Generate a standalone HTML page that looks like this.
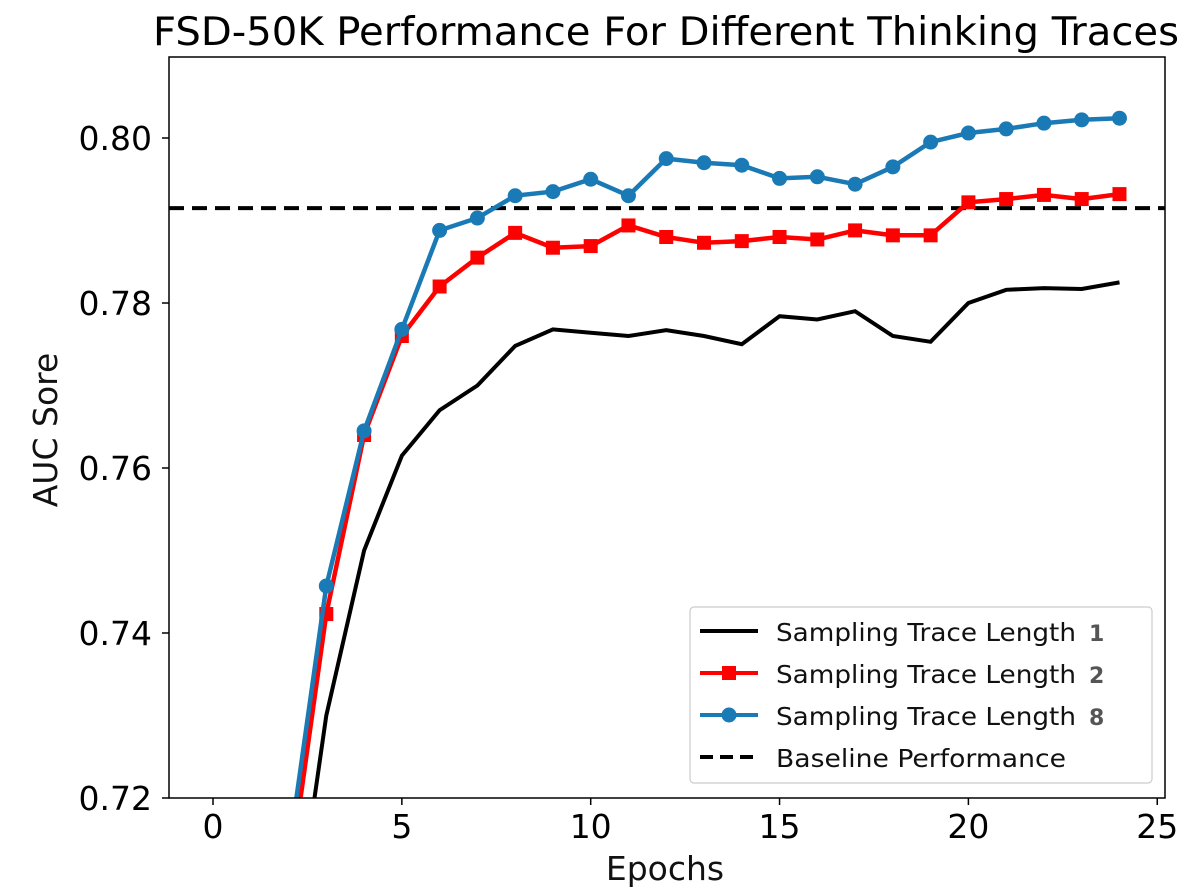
<!DOCTYPE html>
<html><head><meta charset="utf-8"><style>
html,body{margin:0;background:#fff;overflow:hidden;width:1200px;height:895px}
svg{display:block;font-family:"DejaVu Sans","Liberation Sans",sans-serif}
</style></head><body>
<svg id="s" width="1200" height="895" viewBox="0 0 1200 895">
<defs><clipPath id="c"><rect x="169" y="57" width="996" height="741"/></clipPath></defs>
<rect width="1200" height="895" fill="#fff"/>
<text transform="translate(666,45) scale(1,1.1)" font-size="36" text-anchor="middle" fill="#000" textLength="1026" lengthAdjust="spacingAndGlyphs">FSD-50K Performance For Different Thinking Traces</text>
<g id="plot" clip-path="url(#c)"></g>
<rect x="169" y="57" width="996" height="741" fill="none" stroke="#000" stroke-width="1.5"/>
<g id="ticks" font-size="33" fill="#000"></g>
<text x="665" y="880" font-size="33" text-anchor="middle" fill="#111">Epochs</text>
<text transform="translate(57,430) rotate(-90)" font-size="33" text-anchor="middle" fill="#111">AUC Sore</text>
<g id="leg"></g>
</svg>
<script>
const X=e=>213+e*37.77, Y=v=>798-(v-0.72)*8250;
const ns="http://www.w3.org/2000/svg";
function el(t,a,p){const n=document.createElementNS(ns,t);for(const k in a)n.setAttribute(k,a[k]);p.appendChild(n);return n;}
const plot=document.getElementById('plot'),tk=document.getElementById('ticks'),leg=document.getElementById('leg');
const k=[0.698,0.730,0.750,0.7615,0.767,0.770,0.7748,0.7768,0.7764,0.776,0.7767,0.776,0.775,0.7784,0.778,0.779,0.776,0.7753,0.780,0.7816,0.7818,0.7817,0.7825];
const r=[0.7096,0.7423,0.764,0.776,0.782,0.7855,0.7885,0.7867,0.7869,0.7894,0.788,0.7873,0.7875,0.788,0.7877,0.7888,0.7882,0.7882,0.7922,0.7926,0.7931,0.7926,0.7932];
const b=[0.7132,0.7457,0.7645,0.7768,0.7888,0.7903,0.793,0.7935,0.795,0.793,0.7975,0.797,0.7967,0.7951,0.7953,0.7944,0.7965,0.7995,0.8006,0.8011,0.8018,0.8022,0.8024];
const pts=a=>a.map((v,i)=>X(i+2).toFixed(1)+","+Y(v).toFixed(1)).join(" ");
el('line',{x1:169,x2:1165,y1:Y(0.7915),y2:Y(0.7915),stroke:'#000','stroke-width':4,'stroke-dasharray':'15,8'},plot);
el('polyline',{points:pts(k),fill:'none',stroke:'#000','stroke-width':4},plot);
el('polyline',{points:pts(r),fill:'none',stroke:'#ff0000','stroke-width':4.5},plot);
r.forEach((v,i)=>el('rect',{x:X(i+2)-7,y:Y(v)-7,width:14,height:14,fill:'#ff0000'},plot));
el('polyline',{points:pts(b),fill:'none',stroke:'#1a7ab5','stroke-width':4.5},plot);
b.forEach((v,i)=>el('circle',{cx:X(i+2),cy:Y(v),r:7.5,fill:'#1a7ab5'},plot));
[0,5,10,15,20,25].forEach(e=>{el('line',{x1:X(e),x2:X(e),y1:798,y2:805,stroke:'#000','stroke-width':1.5},tk);const t=el('text',{x:X(e),y:838,'text-anchor':'middle'},tk);t.textContent=e;});
[0.72,0.74,0.76,0.78,0.80].forEach(v=>{el('line',{x1:162,x2:169,y1:Y(v),y2:Y(v),stroke:'#000','stroke-width':1.5},tk);const t=el('text',{x:152,y:Y(v)+12,'text-anchor':'end'},tk);t.textContent=v.toFixed(2);});
el('rect',{x:690,y:607,width:462,height:176,rx:4,fill:'#fff',stroke:'#ccc','stroke-width':1.2},leg);
const items=[['#000',null,'Sampling Trace Length','1'],['#ff0000','s','Sampling Trace Length','2'],['#1a7ab5','c','Sampling Trace Length','8'],['#000','d','Baseline Performance','']];
items.forEach((it,i)=>{const y=631+i*42;
 const a={x1:700,x2:758,y1:y,y2:y,stroke:it[0],'stroke-width':4};if(it[1]=='d')a['stroke-dasharray']='13,7';el('line',a,leg);
 if(it[1]=='s')el('rect',{x:722,y:y-7,width:14,height:14,fill:it[0]},leg);
 if(it[1]=='c')el('circle',{cx:729,cy:y,r:7.5,fill:it[0]},leg);
 const t=el('text',{x:776,y:y+10,'font-size':25,fill:'#111',textLength:300,lengthAdjust:'spacingAndGlyphs'},leg);t.textContent=it[2];
 if(it[1]=='d'){t.setAttribute('textLength',290);}
 if(it[3]){const s=el('text',{x:1089,y:y+10,'font-size':22,'font-weight':'bold',fill:'#555'},leg);s.textContent=it[3];}
});
</script>
</body></html>
